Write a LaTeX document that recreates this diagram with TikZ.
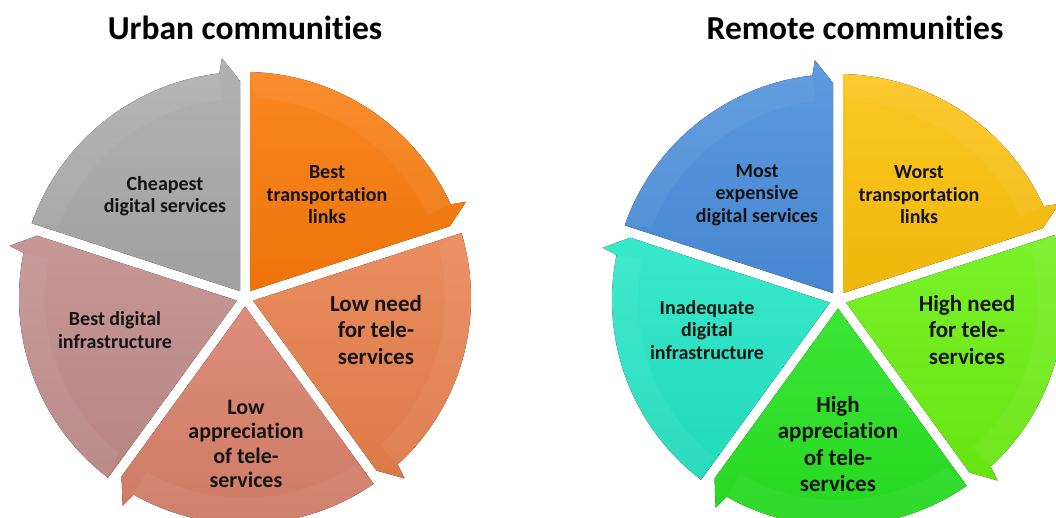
\documentclass[tikz,border=0pt]{standalone}
\usepackage{fontspec}
\setmainfont{Carlito}[Ligatures=NoCommon]
\usetikzlibrary{calc}

\definecolor{textdark}{HTML}{141414}
\definecolor{urbgray}{HTML}{A9A9A9}
\definecolor{urborange}{HTML}{F97A0A}
\definecolor{urbsalmon}{HTML}{E8804C}
\definecolor{urbcoral}{HTML}{D8806A}
\definecolor{urbrose}{HTML}{C08C8A}
\definecolor{remblue}{HTML}{4A8EDC}
\definecolor{remyellow}{HTML}{FCC10C}
\definecolor{remlime}{HTML}{6CF012}
\definecolor{remgreen}{HTML}{26E220}
\definecolor{remteal}{HTML}{22E6C4}

\tikzset{
  part text/.style={align=center, text=textdark, font=\bfseries\fontsize{20}{22.5}\selectfont},
  part big/.style={part text, font=\bfseries\fontsize{23}{26.5}\selectfont},
  part mid/.style={part text, font=\bfseries\fontsize{22}{24.5}\selectfont},
  title text/.style={text=black, font=\bfseries\fontsize{33.5}{40}\selectfont},
}

% one arrow segment: centre, start angle, end angle, colour
\newcommand{\cyclepart}[4]{%
  \fill[top color=#4!90!white, bottom color=#4!95!black]
    ($(#1)+({(#2+#3)/2}:8.5)$) -- ($(#1)+({#2-1.3}:226)$)
    arc[start angle={#2-1.3}, end angle={#3+6.5}, radius=226]
    -- ($(#1)+({#3+5.5}:241)$) -- ($(#1)+(#3:217)+({#3+90}:5)$) -- cycle;
  \fill[white, opacity=.05]
    ($(#1)+({#2-1.3}:226)$) arc[start angle={#2-1.3}, end angle={#3+6.5}, radius=226]
    -- ($(#1)+({#3+6.5}:200)$) arc[start angle={#3+6.5}, end angle={#2-3}, radius=200] -- cycle;
}

\begin{document}
\begin{tikzpicture}[x=1pt, y=1pt]
\useasboundingbox (0,0) rectangle (1056,518);
\begin{scope}
\clip (0,0) rectangle (1056,518);
\coordinate (uc) at (245,220);
\coordinate (rc) at (838,218);

% urban circle
\cyclepart{uc}{162}{90}{urbgray}
\cyclepart{uc}{90}{18}{urborange}
\cyclepart{uc}{18}{-54}{urbsalmon}
\cyclepart{uc}{-54}{-126}{urbcoral}
\cyclepart{uc}{-126}{-198}{urbrose}

% remote circle
\cyclepart{rc}{162}{90}{remblue}
\cyclepart{rc}{90}{18}{remyellow}
\cyclepart{rc}{18}{-54}{remlime}
\cyclepart{rc}{-54}{-126}{remgreen}
\cyclepart{rc}{-126}{-198}{remteal}
\end{scope}

\node[title text] (urbtitle) at (245,490) {Urban communities};
\node[title text] (remtitle) at (855,490) {Remote communities};

\node[part text] (cheap) at (165,322) {Cheapest\\digital services};
\node[part text] (besttrans) at (327,323) {Best\\transportation\\links};
\node[part big] (lowneed) at (376,188) {Low need\\for tele-\\services};
\node[part mid] (lowapp) at (246,74) {Low\\appreciation\\of tele-\\services};
\node[part text] (bestinfra) at (115,188) {Best digital\\infrastructure};

\node[part text] (expensive) at (757,323) {Most\\expensive\\digital services};
\node[part text] (worsttrans) at (919,323) {Worst\\transportation\\links};
\node[part big] (highneed) at (967,188) {High need\\for tele-\\services};
\node[part big] (highapp) at (838,74) {High\\appreciation\\of tele-\\services};
\node[part text] (inadequate) at (707,188) {Inadequate\\digital\\infrastructure};
\end{tikzpicture}
\end{document}
